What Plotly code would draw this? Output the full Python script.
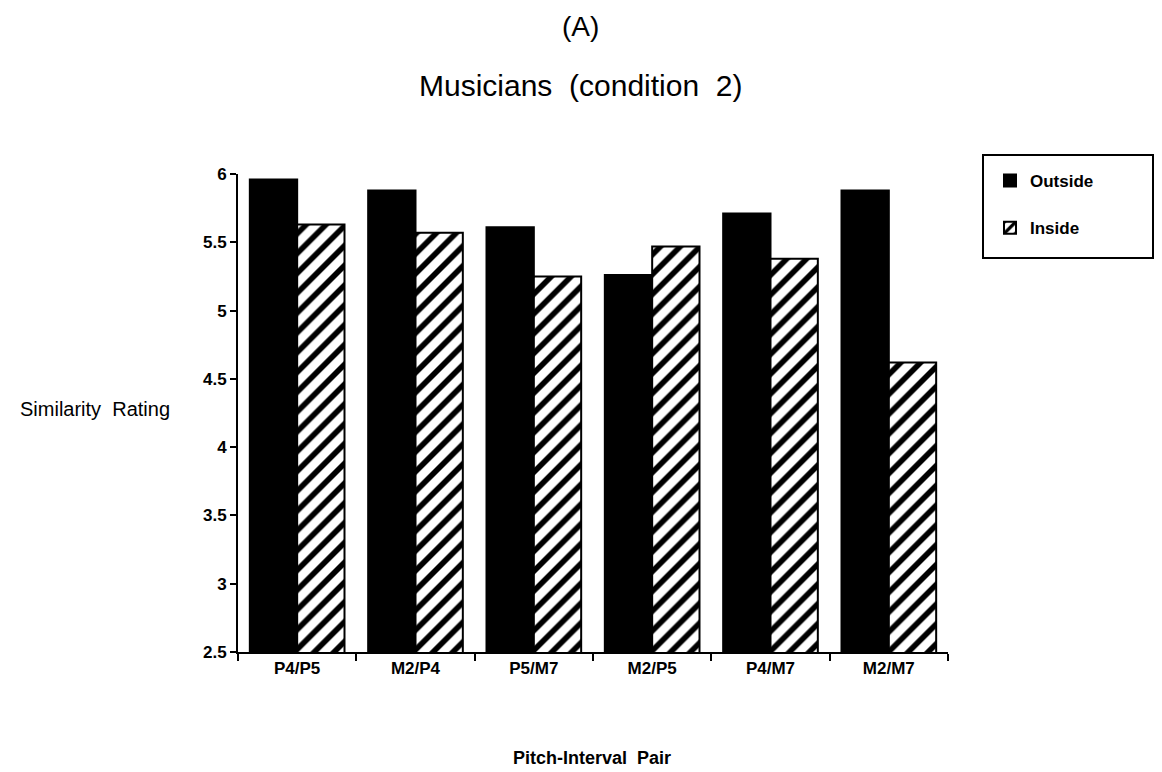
import plotly.graph_objects as go

categories = ["P4/P5", "M2/P4", "P5/M7", "M2/P5", "P4/M7", "M2/M7"]
outside = [5.96, 5.88, 5.61, 5.26, 5.71, 5.88]
inside = [5.63, 5.57, 5.25, 5.47, 5.38, 4.62]
yticks = [2.5, 3, 3.5, 4, 4.5, 5, 5.5, 6]
ytick_labels = ["2.5", "3", "3.5", "4", "4.5", "5", "5.5", "6"]

FONT = "Liberation Sans, Arial, Helvetica, sans-serif"

fig = go.Figure()
fig.add_trace(go.Bar(
    x=categories, y=outside, name="Outside",
    marker=dict(color="black", line=dict(color="black", width=2)),
    legendgroup="o",
))
fig.add_trace(go.Bar(
    x=categories, y=inside, name="Inside",
    marker=dict(color="white", line=dict(color="black", width=2),
                pattern=dict(shape="/", fgcolor="black", bgcolor="white",
                             size=14, solidity=0.4, fillmode="replace")),
    legendgroup="i",
))

fig.update_layout(
    width=1162, height=772,
    margin=dict(l=238, r=214, t=174, b=120, autoexpand=False),
    paper_bgcolor="white", plot_bgcolor="white",
    barmode="group", bargap=0.2, bargroupgap=0.0,
    font=dict(family=FONT, color="black"),
    showlegend=True,
    legend=dict(x=(990 - 238) / 710, y=(652 - 163) / 478, xanchor="left", yanchor="top",
                bgcolor="rgba(0,0,0,0)", borderwidth=0,
                font=dict(size=17, family=FONT, weight="bold"),
                tracegroupgap=22, traceorder="grouped", itemwidth=30),
    xaxis=dict(showline=True, linecolor="black", linewidth=2,
               ticks="outside", ticklen=7, tickwidth=2, tickcolor="black",
               tickson="boundaries", showgrid=False,
               tickfont=dict(size=17, family=FONT, weight="bold"),
               range=[-0.5, 5.5]),
    yaxis=dict(showline=True, linecolor="black", linewidth=2,
               range=[2.5, 6], tickvals=yticks, ticktext=ytick_labels,
               ticks="outside", ticklen=6, tickwidth=2, tickcolor="black",
               showgrid=False, zeroline=False,
               tickfont=dict(size=17, family=FONT, weight="bold")),
    shapes=[dict(type="rect", xref="paper", yref="paper",
                 x0=(983 - 238) / 710, x1=(1153 - 238) / 710,
                 y0=(652 - 258) / 478, y1=(652 - 155) / 478,
                 line=dict(color="black", width=2), fillcolor="rgba(0,0,0,0)")],
    annotations=[
        dict(text="(A)", xref="paper", yref="paper", x=(580 - 238) / 710,
             y=(652 - 27) / 478, yanchor="middle",
             showarrow=False, font=dict(size=28, family=FONT)),
        dict(text="Musicians  (condition  2)", xref="paper", yref="paper",
             x=(580 - 238) / 710, y=(652 - 86) / 478, yanchor="middle",
             showarrow=False, font=dict(size=30, family=FONT)),
        dict(text="Similarity  Rating", xref="paper", yref="paper",
             x=(172 - 238) / 710, y=(652 - 409) / 478, xanchor="right",
             yanchor="middle", showarrow=False,
             font=dict(size=20, family=FONT)),
        dict(text="Pitch-Interval  Pair", xref="paper", yref="paper",
             x=(592 - 238) / 710, y=(652 - 758) / 478, yanchor="middle",
             showarrow=False,
             font=dict(size=18, family=FONT, weight="bold")),
    ],
)

fig.write_html("out.html")
